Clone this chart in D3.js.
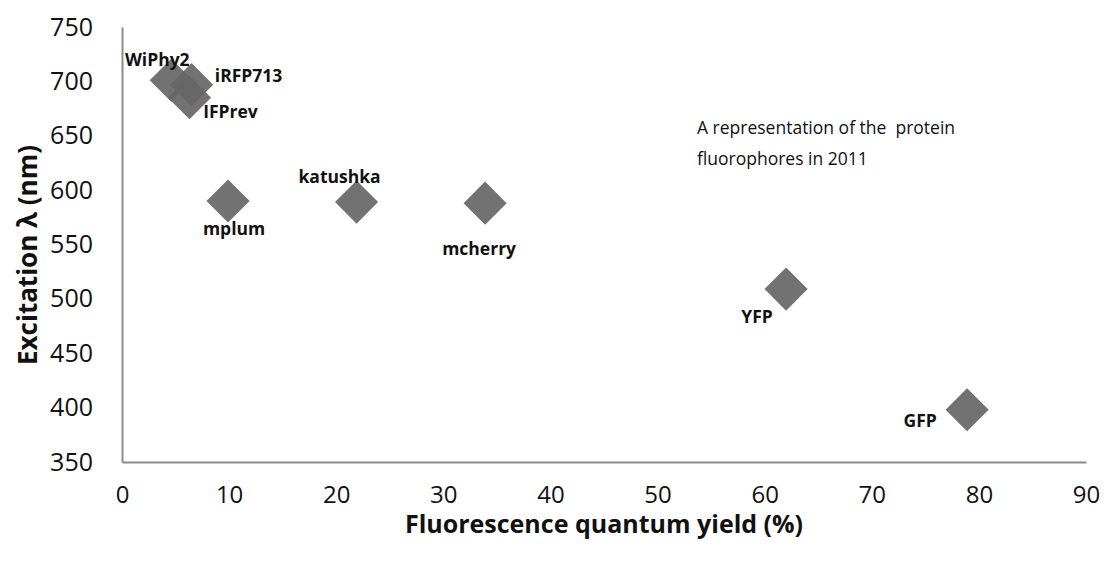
<!DOCTYPE html>
<html>
<head>
<meta charset="utf-8">
<script src="https://cdn.jsdelivr.net/npm/d3@7"></script>
<style>
  body { margin: 0; background: #fff; }
  text { font-family: "Open Sans", sans-serif; }
</style>
</head>
<body>
<div id="chart"></div>
<script>
// proteins and their values
const proteins = ["WiPhy2", "iRFP713", "IFPrev", "mplum", "katushka", "mcherry", "YFP", "GFP"];
const quantumYield = [4.6, 6.5, 6.3, 9.9, 21.9, 33.9, 62, 78.9];
const excitation = [701, 697, 685, 590, 589, 588, 509, 398];

const xTicks = [0, 10, 20, 30, 40, 50, 60, 70, 80, 90];
const yTicks = [350, 400, 450, 500, 550, 600, 650, 700, 750];

// where each data label sits relative to its marker (px)
const labelOffsets = [
  [-14, -20], [57, -9], [41, 14], [6, 28],
  [-17, -25], [-6, 46], [-29, 28], [-47, 11]
];

const width = 1105, height = 562;
const margin = { top: 27, right: 19, bottom: 100, left: 122 };

const data = proteins.map((name, i) => ({
  name,
  x: quantumYield[i],
  y: excitation[i],
  off: labelOffsets[i]
}));

const svg = d3.select("#chart")
  .append("svg")
  .attr("width", width)
  .attr("height", height);

const xScale = d3.scaleLinear()
  .domain([0, 90])
  .range([margin.left, width - margin.right]);

const yScale = d3.scaleLinear()
  .domain([350, 750])
  .range([height - margin.bottom, margin.top]);

// x axis, no tick marks
const xAxis = svg.append("g")
  .attr("transform", `translate(0,${height - margin.bottom})`)
  .call(d3.axisBottom(xScale).tickValues(xTicks).tickSize(0).tickPadding(24));
xAxis.select(".domain").attr("stroke", "#8c8c8c").attr("stroke-width", 2);
xAxis.selectAll("text")
  .style("font-family", "'Open Sans', sans-serif")
  .style("font-size", "24px")
  .attr("fill", "#111");

// y axis
const yAxis = svg.append("g")
  .attr("transform", `translate(${margin.left},0)`)
  .call(d3.axisLeft(yScale).tickValues(yTicks).tickSize(0).tickPadding(29));
yAxis.select(".domain").attr("stroke", "#8c8c8c").attr("stroke-width", 2);
yAxis.selectAll("text")
  .style("font-family", "'Open Sans', sans-serif")
  .style("font-size", "25px")
  .attr("fill", "#111");

// diamond markers
const diamond = d3.symbol().type(d3.symbolSquare).size(930);
svg.selectAll(".pt")
  .data(data)
  .enter()
  .append("path")
  .attr("class", "pt")
  .attr("d", diamond)
  .attr("transform", (d) => `translate(${xScale(d.x)},${yScale(d.y)}) rotate(45)`)
  .attr("fill", "#666666")
  .attr("fill-opacity", 0.92);

// data labels
svg.selectAll(".lbl")
  .data(data)
  .enter()
  .append("text")
  .attr("class", "lbl")
  .attr("x", (d) => xScale(d.x) + d.off[0])
  .attr("y", (d) => yScale(d.y) + d.off[1])
  .attr("dy", "0.35em")
  .attr("text-anchor", "middle")
  .style("font-size", "17.5px")
  .style("font-weight", "bold")
  .attr("fill", "#111")
  .text((d) => d.name);

// note inside the plot
const note = svg.append("text")
  .attr("x", 697)
  .attr("y", 128)
  .style("font-size", "17.5px")
  .style("white-space", "pre")
  .attr("fill", "#111");
note.append("tspan").attr("x", 697).attr("dy", "0.35em").text("A representation of the  protein");
note.append("tspan").attr("x", 697).attr("dy", "1.75em").text("fluorophores in 2011");

// axis titles
svg.append("text")
  .attr("x", (margin.left + width - margin.right) / 2)
  .attr("y", 524)
  .attr("dy", "0.35em")
  .attr("text-anchor", "middle")
  .style("font-size", "25px")
  .style("font-weight", "bold")
  .attr("fill", "#111")
  .text("Fluorescence quantum yield (%)");

svg.append("text")
  .attr("transform", "rotate(-90)")
  .attr("x", -255)
  .attr("y", 28)
  .attr("dy", "0.35em")
  .attr("text-anchor", "middle")
  .style("font-size", "26px")
  .style("font-weight", "bold")
  .attr("fill", "#111")
  .text("Excitation λ (nm)");
</script>
</body>
</html>
